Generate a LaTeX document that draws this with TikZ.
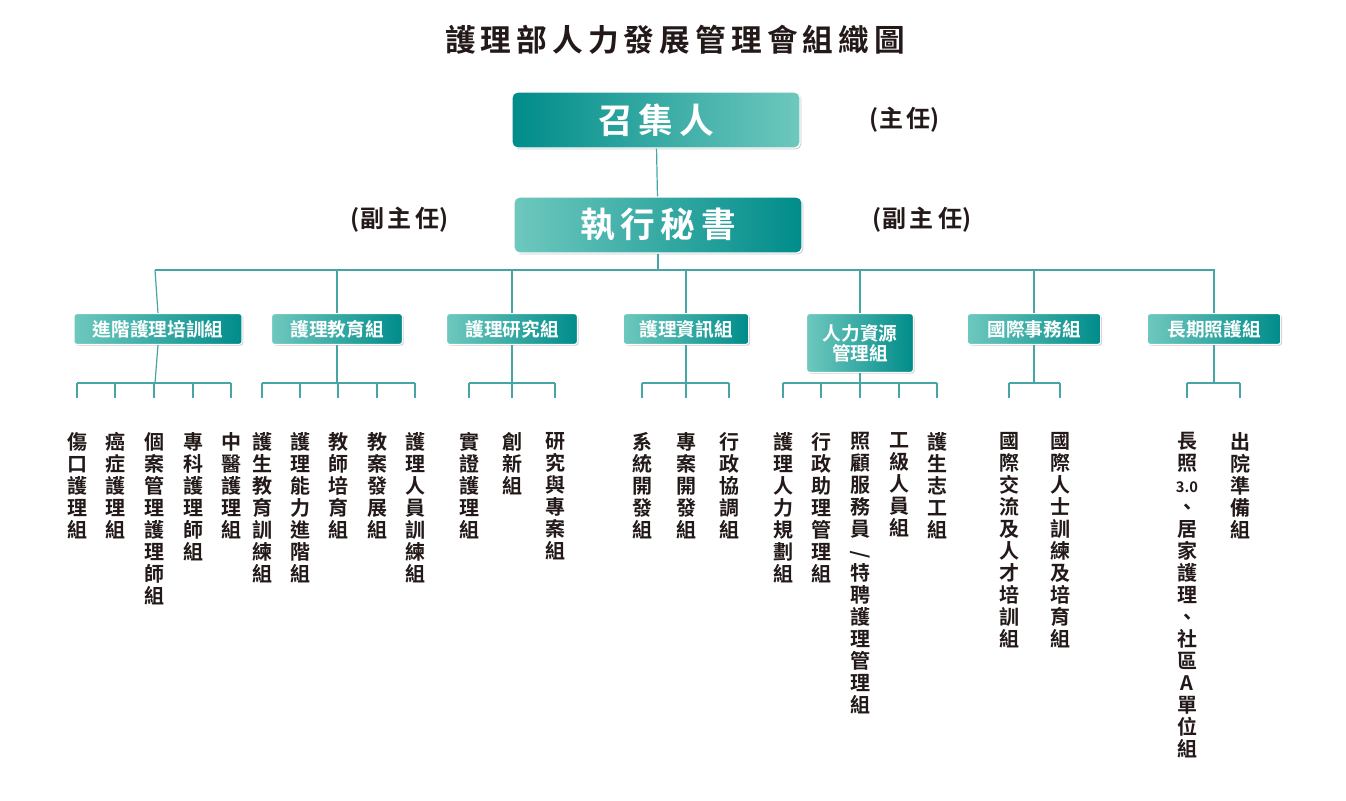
\documentclass[tikz,border=0pt]{standalone}
\usepackage{fontspec}
\setmainfont{Noto Sans CJK TC}[BoldFont={* Bold}]
\usetikzlibrary{shadows}
\definecolor{tealD}{RGB}{0,140,138}
\definecolor{tealL}{RGB}{110,200,190}
\definecolor{lineC}{RGB}{70,165,165}
\definecolor{txt}{RGB}{35,25,25}
\tikzset{
  x=0.75pt,y=-0.75pt,
  bigbox/.style={draw=white,line width=1pt,rounded corners=4pt,minimum width=216pt,minimum height=42pt,
    text=white,font=\fontsize{26}{28}\selectfont\bfseries,drop shadow={shadow xshift=1pt,shadow yshift=-1pt,opacity=0.4}},
  grp/.style={draw=white,line width=0.8pt,rounded corners=2pt,minimum height=23pt,inner xsep=4pt,
    left color=tealL,right color=tealD,text=white,font=\fontsize{14}{15}\selectfont\bfseries,align=center,
    drop shadow={shadow xshift=1pt,shadow yshift=-1pt,opacity=0.35}},
  child/.style={anchor=north,align=center,inner sep=0pt,text=txt,font=\fontsize{15}{16.5}\selectfont\bfseries},
  lbl/.style={text=txt,font=\fontsize{18}{20}\selectfont\bfseries},
  conn/.style={draw=lineC,line width=0.9pt}
}
\begin{document}
\begin{tikzpicture}
\useasboundingbox (0,0) rectangle (1346,800);
\node[text=txt,font=\fontsize{23}{25}\selectfont\bfseries] (title) at (675,40) {護\,理\,部\,人\,力\,發\,展\,管\,理\,會\,組\,織\,圖};
\node[bigbox,left color=tealD,right color=tealL] (top) at (656,120) {召\,集\,人};
\node[lbl] (zr) at (905,120) {(主\,任)};
\node[bigbox,left color=tealL,right color=tealD] (sec) at (658,225) {執\,行\,秘\,書};
\node[lbl] (fz1) at (400,220) {(副\,主\,任)};
\node[lbl] (fz2) at (922,220) {(副\,主\,任)};
\draw[conn] (top) -- (sec);
\coordinate (bus) at (658,270);
\draw[conn] (sec.south) -- (bus);
\draw[conn] (155,270) -- (1215,270);

\node[grp,minimum width=126pt] (g1) at (158,329) {進階護理培訓組};
\node[grp,minimum width=98pt] (g2) at (337,329) {護理教育組};
\node[grp,minimum width=98pt] (g3) at (512,329) {護理研究組};
\node[grp,minimum width=94pt] (g4) at (686,329) {護理資訊組};
\node[grp,minimum width=80pt,minimum height=44pt,inner ysep=2pt] (g5) at (860,343) {人力資源\\管理組};
\node[grp,minimum width=100pt] (g6) at (1034,329) {國際事務組};
\node[grp,minimum width=100pt] (g7) at (1214,329) {長期照護組};
\foreach \g/\x in {g1/155,g2/337,g3/512,g4/686,g5/860,g6/1034,g7/1214}{
  \draw[conn] (\x,270) -- (\g.north);
  \draw[conn] (\g.south) -- (\x,383);
}
% buses
\draw[conn] (77,383) -- (231,383);
\draw[conn] (262,383) -- (415,383);
\draw[conn] (469,383) -- (555,383);
\draw[conn] (642,383) -- (729,383);
\draw[conn] (783,383) -- (937,383);
\draw[conn] (1009,383) -- (1060,383);
\draw[conn] (1187,383) -- (1240,383);
\foreach \x in {77,115,154,193,231,262,300,338,377,415,469,512,555,642,686,729,783,821,860,899,937,1009,1060,1187,1240}{
  \draw[conn] (\x,383) -- (\x,398);
}
\node[child] (c1) at (77,432) {傷\\口\\護\\理\\組};
\node[child] (c2) at (115,432) {癌\\症\\護\\理\\組};
\node[child] (c3) at (154,432) {個\\案\\管\\理\\護\\理\\師\\組};
\node[child] (c4) at (193,432) {專\\科\\護\\理\\師\\組};
\node[child] (c5) at (231,432) {中\\醫\\護\\理\\組};
\node[child] (c6) at (262,432) {護\\生\\教\\育\\訓\\練\\組};
\node[child] (c7) at (300,432) {護\\理\\能\\力\\進\\階\\組};
\node[child] (c8) at (338,432) {教\\師\\培\\育\\組};
\node[child] (c9) at (377,432) {教\\案\\發\\展\\組};
\node[child] (c10) at (415,432) {護\\理\\人\\員\\訓\\練\\組};
\node[child] (c11) at (469,432) {實\\證\\護\\理\\組};
\node[child] (c12) at (512,432) {創\\新\\組};
\node[child] (c13) at (555,432) {研\\究\\與\\專\\案\\組};
\node[child] (c14) at (642,432) {系\\統\\開\\發\\組};
\node[child] (c15) at (686,432) {專\\案\\開\\發\\組};
\node[child] (c16) at (729,432) {行\\政\\協\\調\\組};
\node[child] (c17) at (783,432) {護\\理\\人\\力\\規\\劃\\組};
\node[child] (c18) at (821,432) {行\\政\\助\\理\\管\\理\\組};
\node[child] (c19) at (860,432) {照\\顧\\服\\務\\員\\\rotatebox{90}{/}\\特\\聘\\護\\理\\管\\理\\組};
\node[child] (c20) at (899,432) {工\\級\\人\\員\\組};
\node[child] (c21) at (937,432) {護\\生\\志\\工\\組};
\node[child] (c22) at (1009,432) {國\\際\\交\\流\\及\\人\\才\\培\\訓\\組};
\node[child] (c23) at (1060,432) {國\\際\\人\\士\\訓\\練\\及\\培\\育\\組};
\node[child] (c24) at (1187,432) {長\\照\\{\fontsize{11}{12}\selectfont 3.0}\\、\\居\\家\\護\\理\\、\\社\\區\\A\\單\\位\\組};
\node[child] (c25) at (1240,432) {出\\院\\準\\備\\組};
\end{tikzpicture}
\end{document}
